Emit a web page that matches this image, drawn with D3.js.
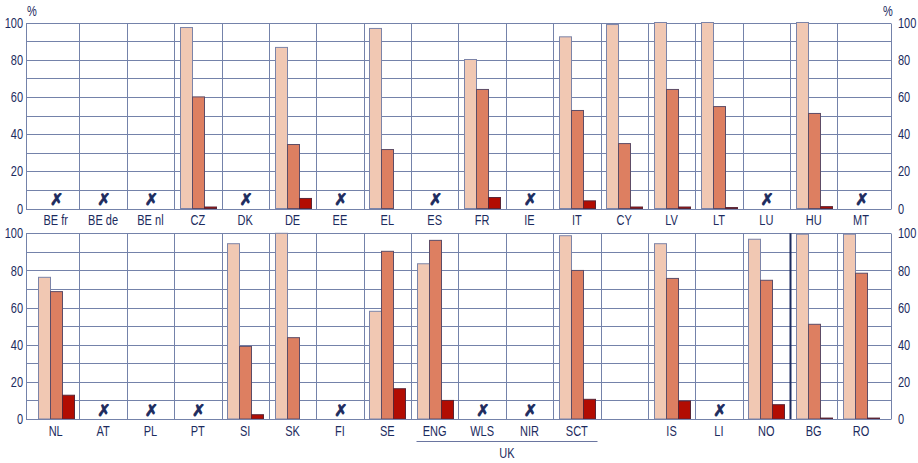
<!DOCTYPE html>
<html><head><meta charset="utf-8">
<script src="https://cdn.jsdelivr.net/npm/d3@7"></script>
<style>
html,body{margin:0;padding:0;background:#fff;}
svg text{font-family:"Liberation Sans Narrow","Arial Narrow","Liberation Sans",sans-serif;fill:#1c2b5e;}
</style></head>
<body><svg id="chart" width="918" height="463"></svg>
<script>
// ---- data ----
const seriesNames = ["Series 1", "Series 2", "Series 3"];
const topCategories = ["BE fr","BE de","BE nl","CZ","DK","DE","EE","EL","ES","FR","IE","IT","CY","LV","LT","LU","HU","MT"];
const topSeries1 = [null,null,null,97.3,null,86.6,null,96.8,null,80.1,null,92.3,98.9,100,100,null,100,null];
const topSeries2 = [null,null,null,60.0,null,34.4,null,31.7,null,64.0,null,52.7,34.9,64.0,54.8,null,51.1,null];
const topSeries3 = [null,null,null,0.8,null,5.4,null,null,null,5.9,null,4.1,0.8,0.8,0.5,null,1.0,null];
const topMissing = ["BE fr","BE de","BE nl","DK","EE","ES","IE","LU","MT"];

const bottomCategories = ["NL","AT","PL","PT","SI","SK","FI","SE","ENG","WLS","NIR","SCT","","IS","LI","NO","BG","RO"];
const bottomSeries1 = [76.3,null,null,null,94.4,100,null,58.0,83.6,null,null,98.7,null,94.4,null,96.8,99.5,99.5];
const bottomSeries2 = [68.6,null,null,null,39.1,43.8,null,90.3,96.2,null,null,80.0,null,75.7,null,74.7,51.0,78.5];
const bottomSeries3 = [12.8,null,null,null,2.3,null,null,16.3,10.0,null,null,10.6,null,9.7,null,7.7,0.5,0.5];
const bottomMissing = ["AT","PL","PT","FI","WLS","NIR","LI"];
const ukGroup = ["ENG","WLS","NIR","SCT"];
const separatorBefore = "BG";
const yTicks = [0,20,40,60,80,100];
const yGrid = [0,10,20,30,40,50,60,70,80,90,100];

// ---- styles ----
const fills = ["#f1c8b3","#dd7f61","#b20c02"];
const strokes = ["#7c84a8","#5d4c66","#5a2535"];
const gridColor = "#7482aa";
const navy = "#1c2b5e";
const squeeze = 0.76;

const svg = d3.select("#chart");
const frameL = 26, frameR = 891;
const x = d3.scaleBand().domain(d3.range(18)).range([32, 884.75]).padding(0);
const step = x.step();
const x1 = d3.scaleBand().domain(d3.range(3)).range([5.8, step - 5.8]).padding(0);

function panel(cats, s1, s2, s3, missing, yTop, yBot, extra) {
  const y = d3.scaleLinear().domain([0,100]).range([yBot, yTop]);
  const g = svg.append("g");
  g.selectAll("line.h").data(yGrid).join("line")
    .attr("x1", frameL).attr("x2", frameR)
    .attr("y1", d => Math.round(y(d)) + 0.5).attr("y2", d => Math.round(y(d)) + 0.5)
    .attr("stroke", gridColor).attr("stroke-width", 1);
  const vx = [frameL].concat(d3.range(1,18).map(i => x(i))).concat([frameR]);
  g.selectAll("line.v").data(vx).join("line")
    .attr("x1", d => Math.round(d) + 0.5).attr("x2", d => Math.round(d) + 0.5)
    .attr("y1", Math.round(y(100)) + 0.5).attr("y2", Math.round(y(0)) + 0.5)
    .attr("stroke", gridColor).attr("stroke-width", 1);
  const series = [s1, s2, s3];
  series.forEach((vals, si) => {
    g.selectAll("rect.s" + si).data(vals.map((v,i) => ({v, i})).filter(d => d.v != null && d.v > 0))
      .join("rect")
      .attr("x", d => Math.round(x(d.i) + x1(si)) + 0.5)
      .attr("width", Math.round(x1.bandwidth()))
      .attr("y", d => y(d.v))
      .attr("height", d => Math.max(0.8, y(0) - y(d.v)))
      .attr("fill", fills[si]).attr("stroke", strokes[si]).attr("stroke-width", 1);
  });
  g.append("line").attr("x1", frameL).attr("x2", frameR)
    .attr("y1", Math.round(y(0)) + 0.5).attr("y2", Math.round(y(0)) + 0.5)
    .attr("stroke", gridColor);
  g.selectAll("text.miss").data(cats.map((c,i) => ({c,i})).filter(d => missing.includes(d.c)))
    .join("text").attr("class", "miss")
    .attr("x", d => x(d.i) + step/2 + 1).attr("y", y(0) - 3.5)
    .attr("text-anchor", "middle")
    .style("font-family", "'DejaVu Sans',sans-serif").style("font-weight", "bold")
    .style("font-size", "16px").style("fill", navy)
    .style("stroke", navy).style("stroke-width", "0.9px")
    .text("\u2717");
  g.selectAll("text.cat").data(cats.map((c,i) => ({c,i})))
    .join("text").attr("class", "cat")
    .attr("x", d => x(d.i) + step/2).attr("y", y(0) + 17)
    .attr("text-anchor", "middle").style("font-size", "14.5px")
    .text(d => d.c);
  const yl = d3.axisLeft(y).tickValues(yTicks).tickSize(0).tickPadding(3);
  const ya = g.append("g").attr("transform", `translate(${frameL},0)`).call(yl);
  ya.select(".domain").remove();
  ya.selectAll("text").style("font-size", "14.5px").style("fill", navy).attr("font-family", null);
  const yr = d3.axisRight(y).tickValues(yTicks).tickSize(0).tickPadding(7);
  const yb = g.append("g").attr("transform", `translate(${frameR},0)`).call(yr);
  yb.select(".domain").remove();
  yb.selectAll("text").style("font-size", "14.5px").style("fill", navy).attr("font-family", null);
  if (extra) extra(g, y, cats);
}

panel(topCategories, topSeries1, topSeries2, topSeries3, topMissing, 22.5, 208.5, (g) => {
  g.append("text").attr("x", 27).attr("y", 16).style("font-size", "14.5px").text("%");
  g.append("text").attr("x", 883).attr("y", 16).style("font-size", "14.5px").text("%");
});

panel(bottomCategories, bottomSeries1, bottomSeries2, bottomSeries3, bottomMissing, 233.3, 419, (g, y, cats) => {
  const si = cats.indexOf(separatorBefore);
  const sx = Math.round(x(si)) + 0.5;
  g.append("line").attr("x1", sx).attr("x2", sx).attr("y1", y(100)).attr("y2", y(0))
    .attr("stroke", navy).attr("stroke-width", 2);
  const a = cats.indexOf(ukGroup[0]), b = cats.indexOf(ukGroup[ukGroup.length-1]);
  const lx1 = x(a) + 5.5, lx2 = x(b) + step - 3;
  g.append("line").attr("x1", lx1).attr("x2", lx2).attr("y1", 441.5).attr("y2", 441.5)
    .attr("stroke", "#6a75a0").attr("stroke-width", 1);
  g.append("text").attr("x", (lx1 + lx2)/2).attr("y", 458).attr("text-anchor", "middle")
    .style("font-size", "14.5px").text("UK");
});

// condense text horizontally around its anchor (narrow typeface look)
svg.selectAll("text").filter(function(){ return this.getAttribute("class") !== "miss"; })
  .each(function(){
    const ax = +(this.getAttribute("x") || 0);
    const prev = this.getAttribute("transform") || "";
    d3.select(this).attr("transform",
      `${prev} translate(${ax},0) scale(${squeeze},1) translate(${-ax},0)`);
  });
</script></body></html>
